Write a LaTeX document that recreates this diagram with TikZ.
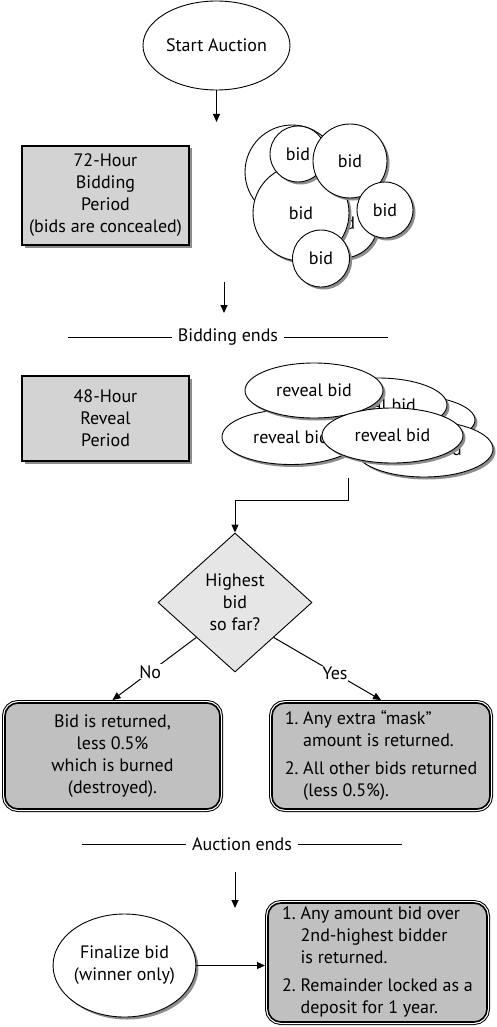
\documentclass[tikz,border=0pt]{standalone}
\usepackage{fontspec}
\setmainfont{PT Sans}
\usetikzlibrary{arrows.meta, positioning, calc, shapes.geometric, shadows}
\definecolor{boxgray}{HTML}{D3D3D3}
\definecolor{outgray}{HTML}{C0C0C0}
\definecolor{diagray}{HTML}{E6E6E6}
\definecolor{shadowgray}{HTML}{8C8C8C}

\begin{document}
\begin{tikzpicture}[
    x=1pt, y=-1pt,
    >={Triangle[width=7pt, length=8pt]},
    font=\fontsize{18}{22}\selectfont,
    shadowed/.style={drop shadow={shadow xshift=2.5pt, shadow yshift=-2.5pt,
                     fill=shadowgray, opacity=1}},
    period/.style={draw, line width=1.2pt, fill=boxgray, align=center,
                   minimum width=167pt, inner sep=0pt, shadowed},
    bidc/.style={circle, draw, line width=0.9pt, fill=white, inner sep=0pt, shadowed},
    reveal/.style={ellipse, draw, line width=0.9pt, fill=white, inner sep=0pt, shadowed},
    start/.style={ellipse, draw, line width=0.9pt, fill=white, inner sep=0pt, align=center},
    decision/.style={diamond, draw, line width=0.9pt, fill=diagray, align=center, inner sep=0pt},
    outcome/.style={draw, line width=1.6pt, rounded corners=13pt, fill=outgray,
                    preaction={draw, line width=6pt}, preaction={draw=white, line width=4pt},
                    inner sep=0pt, outer sep=3pt, align=center},
    arrow/.style={->, line width=1pt},
    rule/.style={line width=0.9pt},
    note/.style={inner sep=6pt},
]
    \useasboundingbox (0,0) rectangle (496,1027);

    \node[start, minimum width=147pt, minimum height=89pt] (start) at (216.5,45.5) {Start Auction};
    \coordinate (bidin) at (216.5,122);
    \draw[arrow] (start) -- (bidin);

    \node[period, minimum height=99pt] (bidding) at (105.5,195.5)
        {72-Hour\\Bidding\\Period\\(bids are concealed)};

    % sealed bids
    \node[bidc, minimum size=94pt] (bidA) at (292,172) {};
    \node[bidc, minimum size=70pt] (bidE) at (343,223) {bid};
    \node[bidc, minimum size=96pt] (bidD) at (301,213) {bid};
    \node[bidc, minimum size=56pt] (bidB) at (298,154) {bid};
    \node[bidc, minimum size=74pt] (bidC) at (350,161) {bid};
    \node[bidc, minimum size=56pt] (bidF) at (385,210) {bid};
    \node[bidc, minimum size=57pt] (bidG) at (321,258.5) {bid};

    \coordinate (bidout) at (224,282);
    \coordinate (bidend) at (224,313);
    \draw[arrow] (bidout) -- (bidend);

    \node[note] (bidclose) at (228,337) {Bidding ends};
    \coordinate (bcl) at (68,337);
    \coordinate (bcr) at (388,337);
    \draw[rule] (bcl) -- (bidclose);
    \draw[rule] (bidclose) -- (bcr);

    \node[period, minimum height=85pt] (revealing) at (105.5,418.5) {48-Hour\\Reveal\\Period};

    % revealed bids
    \node[reveal, minimum width=138pt, minimum height=50pt] (revC) at (406,420) {};
    \node[reveal, minimum width=138pt, minimum height=54pt] (revB) at (378,405) {reveal bid};
    \node[reveal, minimum width=138pt, minimum height=56pt] (revD) at (424,449) {reveal bid};
    \node[reveal, minimum width=138pt, minimum height=55pt] (revE) at (291,437) {reveal bid};
    \node[reveal, minimum width=138pt, minimum height=55pt] (revA) at (314,390.5) {reveal bid};
    \node[reveal, minimum width=141pt, minimum height=55pt] (revF) at (392.5,435.5) {reveal bid};

    \node[decision, minimum width=154pt, minimum height=139pt] (high) at (235,602.5)
        {Highest\\bid\\so far?};
    \coordinate (revout) at (348,478);
    \draw[arrow] (revout) -- ++(0,22) -| (high);

    \node[outcome, minimum width=215pt, minimum height=106pt] (burn) at (112.5,756)
        {Bid is returned,\\less 0.5\%\\which is burned\\(destroyed).};
    \node[outcome, minimum width=218pt, minimum height=106pt] (refund) at (381,756)
        {\begin{tabular}{@{}l@{\ }l@{}}
            1. & Any extra “mask”\\
               & amount is returned.\\[6pt]
            2. & All other bids returned\\
               & (less 0.5\%).
         \end{tabular}};

    \draw[arrow] (high.south west) -- node[note, fill=white, inner sep=1pt, pos=0.55] (no) {No} (burn.north);
    \draw[arrow] (high.south east) -- node[note, fill=white, inner sep=1pt, pos=0.57] (yes) {Yes} (refund.north);

    \node[note] (auctclose) at (242,844) {Auction ends};
    \coordinate (acl) at (82,844);
    \coordinate (acr) at (402,844);
    \draw[rule] (acl) -- (auctclose);
    \draw[rule] (auctclose) -- (acr);

    \coordinate (finin) at (235,872);
    \coordinate (finend) at (235,908);
    \draw[arrow] (finin) -- (finend);

    \node[start, minimum width=135pt, minimum height=103pt, shadowed] (final) at (124.5,965.5)
        {Finalize bid\\(winner only)};
    \node[outcome, minimum width=219pt, minimum height=119pt] (lock) at (377.5,962.5)
        {\begin{tabular}{@{}l@{\ }l@{}}
            1. & Any amount bid over\\
               & 2nd-highest bidder\\
               & is returned.\\[6pt]
            2. & Remainder locked as a\\
               & deposit for 1 year.
         \end{tabular}};
    \draw[arrow] (final) -- (final -| lock.west);
\end{tikzpicture}
\end{document}
